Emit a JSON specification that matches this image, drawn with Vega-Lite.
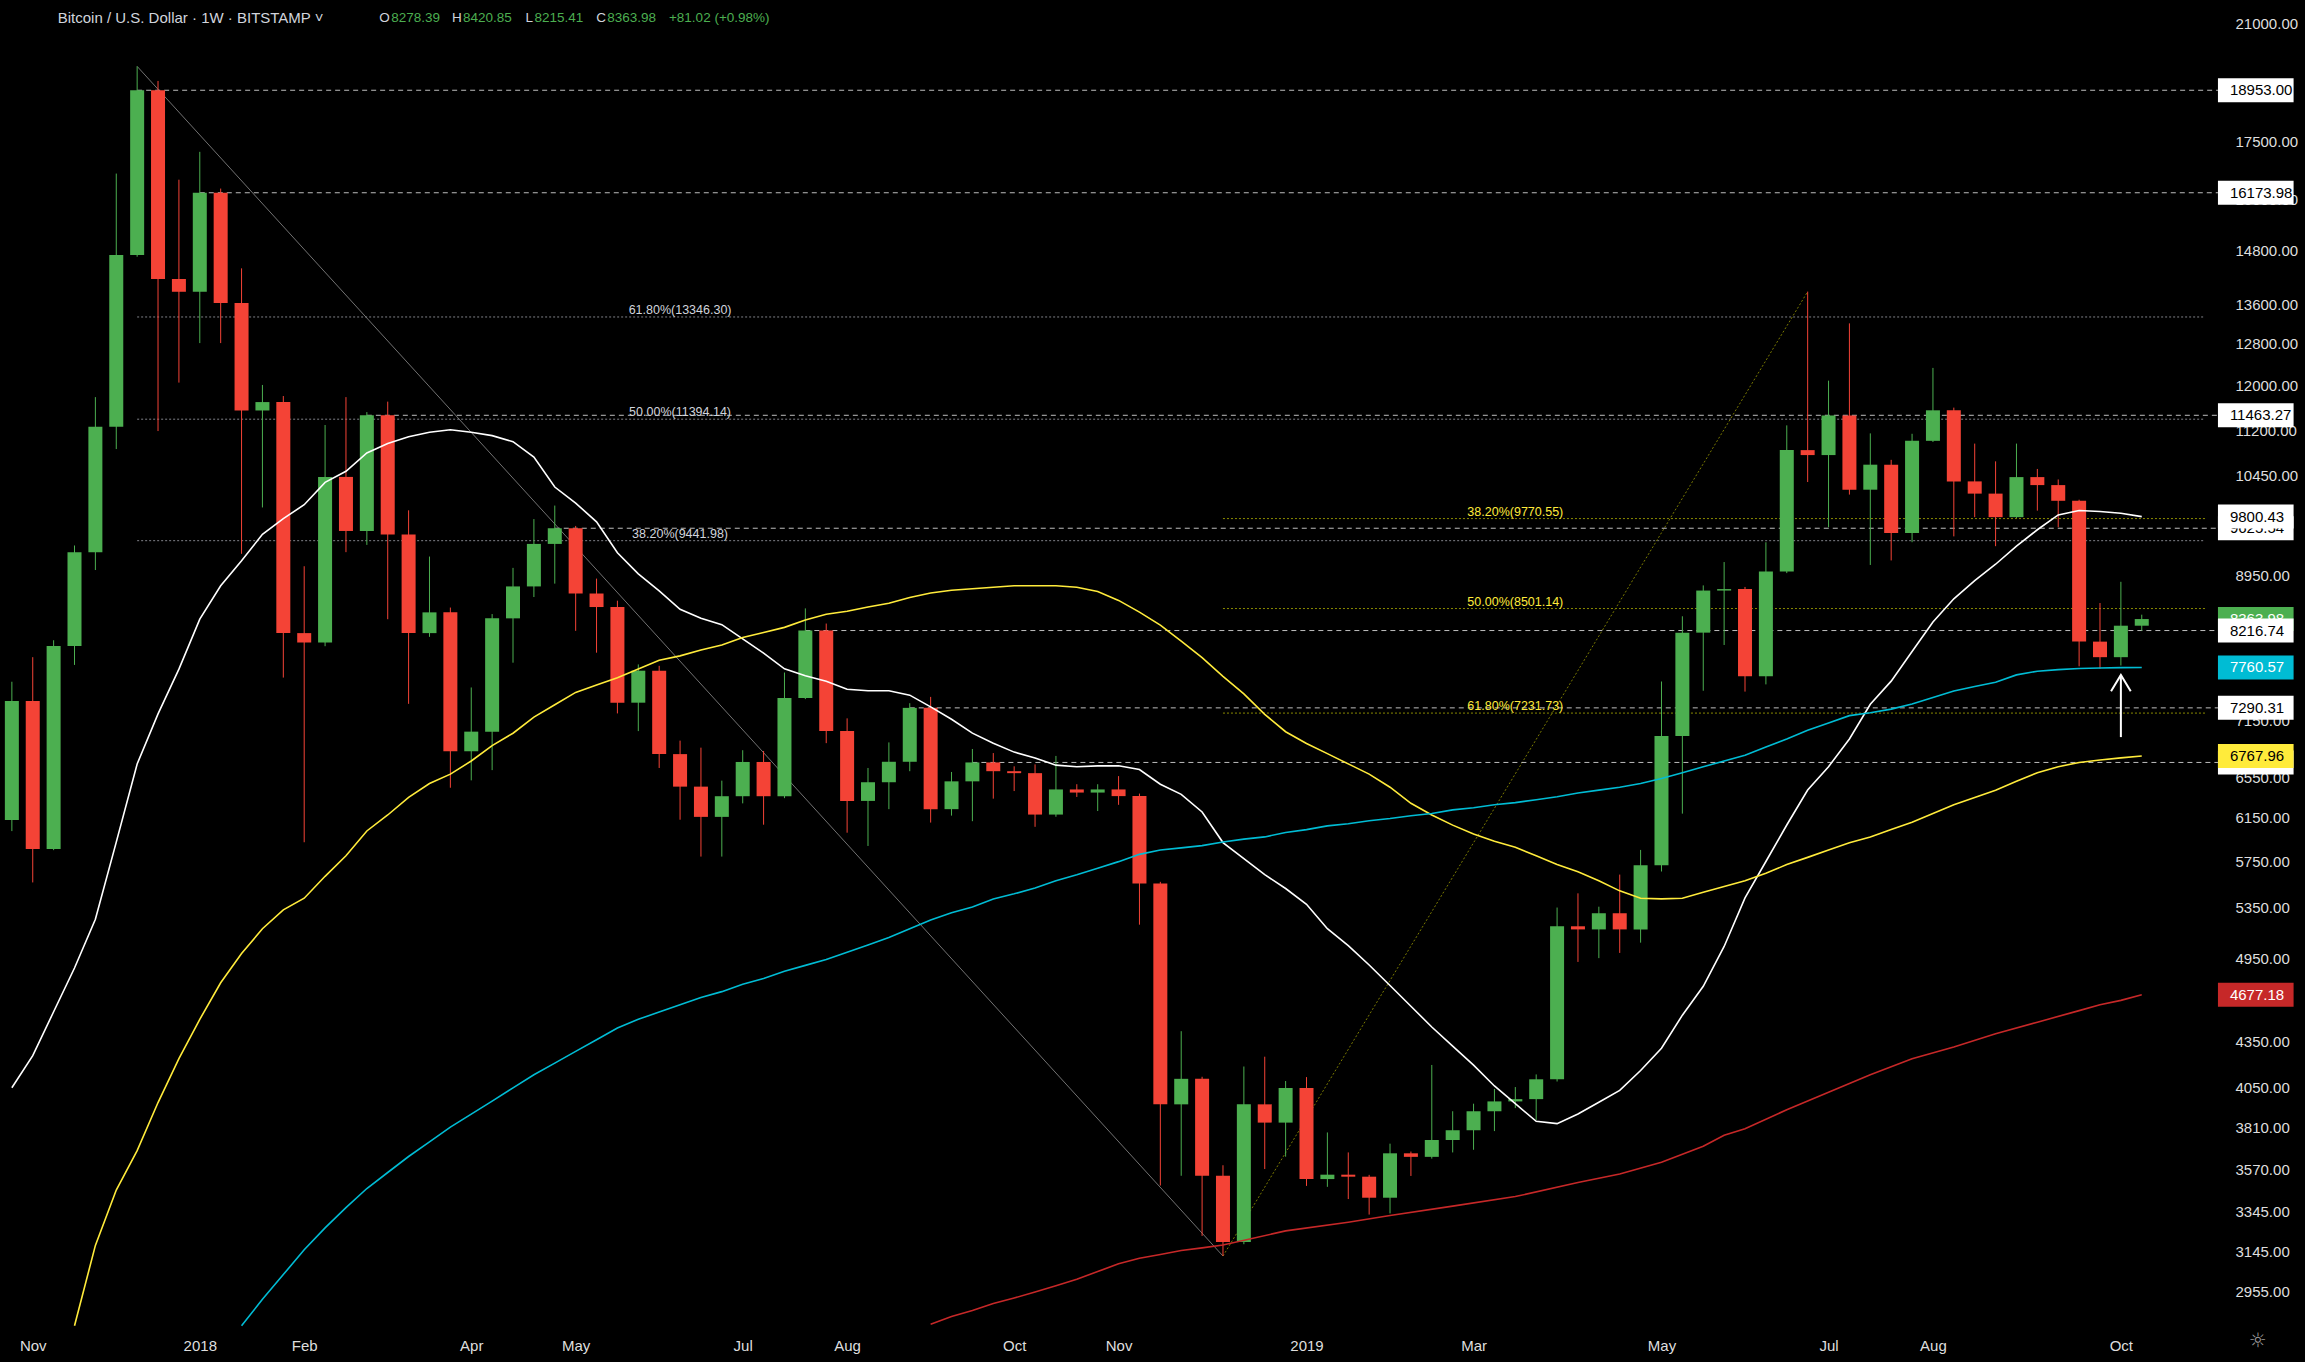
{
"$schema":"https://vega.github.io/schema/vega-lite/v6.json",
"width":2210,"height":1328,
"autosize":{"type":"none"},
"padding":{"left":0,"top":0,"right":95,"bottom":34},
"background":"#000000",
"config":{"view":{"stroke":null},"text":{"font":"Liberation Sans"},"axis":{"labelFont":"Liberation Sans","grid":false,"ticks":false,"domain":false,"title":null,"labelColor":"#dedede","labelFontSize":15}},
"resolve":{"scale":{"color":"independent"}},
"datasets":{
"candles":[
{"d":"2017-10-30","o":6130,"h":7591,"l":6025,"c":7367,"ma20":4051},
{"d":"2017-11-06","o":7367,"h":7885,"l":5565,"c":5861,"ma20":4257},
{"d":"2017-11-13","o":5861,"h":8094,"l":5850,"c":8024,"ma20":4556},
{"d":"2017-11-20","o":8024,"h":9372,"l":7791,"c":9276,"ma20":4875,"ma50":2803},
{"d":"2017-11-27","o":9276,"h":11790,"l":9023,"c":11262,"ma20":5257,"ma50":3174},
{"d":"2017-12-04","o":11262,"h":16661,"l":10880,"c":14692,"ma20":5923,"ma50":3458},
{"d":"2017-12-11","o":14692,"h":19666,"l":14650,"c":18953,"ma20":6684,"ma50":3675},
{"d":"2017-12-18","o":18953,"h":19228,"l":11187,"c":14154,"ma20":7223,"ma50":3959},
{"d":"2017-12-25","o":14154,"h":16504,"l":12058,"c":13877,"ma20":7740,"ma50":4237},
{"d":"2018-01-01","o":13877,"h":17231,"l":12818,"c":16173.98,"ma20":8363,"ma50":4503},
{"d":"2018-01-08","o":16173.98,"h":16279,"l":12818,"c":13640,"ma20":8806,"ma50":4765},
{"d":"2018-01-15","o":13640,"h":14389,"l":9252,"c":11549,"ma20":9155,"ma50":4985,"ma100":2803},
{"d":"2018-01-22","o":11549,"h":12014,"l":9940,"c":11700,"ma20":9535,"ma50":5180,"ma100":2920},
{"d":"2018-01-29","o":11700,"h":11810,"l":7640,"c":8184,"ma20":9771,"ma50":5334,"ma100":3034},
{"d":"2018-02-05","o":8184,"h":9076,"l":5922,"c":8066,"ma20":9982,"ma50":5431,"ma100":3153},
{"d":"2018-02-12","o":8066,"h":11292,"l":8020,"c":10421,"ma20":10333,"ma50":5618,"ma100":3261},
{"d":"2018-02-19","o":10421,"h":11790,"l":9276,"c":9585,"ma20":10512,"ma50":5799,"ma100":3365},
{"d":"2018-02-26","o":9585,"h":11520,"l":9381,"c":11463.27,"ma20":10815,"ma50":6026,"ma100":3466},
{"d":"2018-03-05","o":11463.27,"h":11708,"l":8362,"c":9534,"ma20":10975,"ma50":6177,"ma100":3553},
{"d":"2018-03-12","o":9534,"h":9896,"l":7336,"c":8184,"ma20":11090,"ma50":6347,"ma100":3642},
{"d":"2018-03-19","o":8184,"h":9213,"l":8137,"c":8451,"ma20":11167,"ma50":6485,"ma100":3725},
{"d":"2018-03-26","o":8451,"h":8514,"l":6443,"c":6817,"ma20":11210,"ma50":6580,"ma100":3811},
{"d":"2018-04-02","o":6817,"h":7524,"l":6517,"c":7027,"ma20":11167,"ma50":6715,"ma100":3889},
{"d":"2018-04-09","o":7027,"h":8429,"l":6621,"c":8373,"ma20":11108,"ma50":6877,"ma100":3968},
{"d":"2018-04-16","o":8373,"h":9053,"l":7818,"c":8797,"ma20":11005,"ma50":7010,"ma100":4050},
{"d":"2018-04-23","o":8797,"h":9763,"l":8654,"c":9395,"ma20":10747,"ma50":7186,"ma100":4133},
{"d":"2018-04-30","o":9395,"h":9969,"l":8835,"c":9625.54,"ma20":10259,"ma50":7325,"ma100":4208},
{"d":"2018-05-07","o":9625.54,"h":9660,"l":8213,"c":8701,"ma20":10007,"ma50":7467,"ma100":4285},
{"d":"2018-05-14","o":8701,"h":8904,"l":7940,"c":8521,"ma20":9722,"ma50":7552,"ma100":4363},
{"d":"2018-05-21","o":8521,"h":8605,"l":7228,"c":7349,"ma20":9267,"ma50":7638,"ma100":4443},
{"d":"2018-05-28","o":7349,"h":7797,"l":7033,"c":7722,"ma20":8969,"ma50":7742,"ma100":4503},
{"d":"2018-06-04","o":7722,"h":7780,"l":6643,"c":6787,"ma20":8736,"ma50":7848,"ma100":4554},
{"d":"2018-06-11","o":6787,"h":6930,"l":6132,"c":6454,"ma20":8491,"ma50":7901,"ma100":4606},
{"d":"2018-06-18","o":6454,"h":6855,"l":5792,"c":6159,"ma20":8374,"ma50":7973,"ma100":4658},
{"d":"2018-06-25","o":6159,"h":6514,"l":5792,"c":6359,"ma20":8292,"ma50":8036,"ma100":4700},
{"d":"2018-07-02","o":6359,"h":6828,"l":6289,"c":6705,"ma20":8112,"ma50":8128,"ma100":4754},
{"d":"2018-07-09","o":6705,"h":6820,"l":6085,"c":6359,"ma20":7934,"ma50":8192,"ma100":4797},
{"d":"2018-07-16","o":6359,"h":7700,"l":6340,"c":7403,"ma20":7744,"ma50":8257,"ma100":4851},
{"d":"2018-07-23","o":7403,"h":8503,"l":7390,"c":8216.74,"ma20":7661,"ma50":8351,"ma100":4895},
{"d":"2018-07-30","o":8216.74,"h":8306,"l":6903,"c":7033,"ma20":7597,"ma50":8426,"ma100":4940},
{"d":"2018-08-06","o":7033,"h":7173,"l":6010,"c":6313,"ma20":7504,"ma50":8465,"ma100":4996},
{"d":"2018-08-13","o":6313,"h":6643,"l":5888,"c":6498,"ma20":7486,"ma50":8522,"ma100":5052},
{"d":"2018-08-20","o":6498,"h":6911,"l":6233,"c":6707,"ma20":7486,"ma50":8570,"ma100":5110},
{"d":"2018-08-27","o":6707,"h":7343,"l":6610,"c":7290.31,"ma20":7435,"ma50":8648,"ma100":5180},
{"d":"2018-09-03","o":7290.31,"h":7415,"l":6105,"c":6233,"ma20":7302,"ma50":8707,"ma100":5250,"ma200":2810},
{"d":"2018-09-10","o":6233,"h":6602,"l":6171,"c":6507,"ma20":7163,"ma50":8746,"ma100":5310,"ma200":2843},
{"d":"2018-09-17","o":6507,"h":6841,"l":6118,"c":6700,"ma20":7011,"ma50":8766,"ma100":5358,"ma200":2870},
{"d":"2018-09-24","o":6700,"h":6798,"l":6335,"c":6610,"ma20":6901,"ma50":8786,"ma100":5425,"ma200":2901},
{"d":"2018-10-01","o":6610,"h":6660,"l":6410,"c":6590,"ma20":6808,"ma50":8806,"ma100":5468,"ma200":2926},
{"d":"2018-10-08","o":6590,"h":6680,"l":6065,"c":6181,"ma20":6747,"ma50":8806,"ma100":5517,"ma200":2953},
{"d":"2018-10-15","o":6181,"h":6768,"l":6160,"c":6426,"ma20":6672,"ma50":8806,"ma100":5580,"ma200":2982},
{"d":"2018-10-22","o":6426,"h":6478,"l":6352,"c":6395,"ma20":6656,"ma50":8786,"ma100":5631,"ma200":3012},
{"d":"2018-10-29","o":6395,"h":6478,"l":6215,"c":6426,"ma20":6665,"ma50":8727,"ma100":5689,"ma200":3048},
{"d":"2018-11-05","o":6426,"h":6560,"l":6275,"c":6360,"ma20":6665,"ma50":8609,"ma100":5747,"ma200":3085},
{"d":"2018-11-12","o":6360,"h":6385,"l":5213,"c":5556,"ma20":6627,"ma50":8454,"ma100":5812,"ma200":3112},
{"d":"2018-11-19","o":5556,"h":5570,"l":3482,"c":3948,"ma20":6478,"ma50":8285,"ma100":5851,"ma200":3130},
{"d":"2018-11-26","o":3948,"h":4421,"l":3535,"c":4107,"ma20":6377,"ma50":8082,"ma100":5871,"ma200":3149},
{"d":"2018-12-03","o":4107,"h":4120,"l":3221,"c":3535,"ma20":6206,"ma50":7880,"ma100":5891,"ma200":3162},
{"d":"2018-12-10","o":3535,"h":3593,"l":3122.28,"c":3191,"ma20":5919,"ma50":7655,"ma100":5924,"ma200":3176},
{"d":"2018-12-17","o":3191,"h":4186,"l":3180,"c":3948,"ma20":5774,"ma50":7450,"ma100":5951},
{"d":"2018-12-24","o":3948,"h":4250,"l":3572,"c":3838,"ma20":5633,"ma50":7218,"ma100":5971},
{"d":"2018-12-31","o":3838,"h":4093,"l":3641,"c":4049,"ma20":5513,"ma50":7026,"ma100":6012,"ma200":3246},
{"d":"2019-01-07","o":4049,"h":4118,"l":3480,"c":3517,"ma20":5380,"ma50":6900,"ma100":6039},
{"d":"2019-01-14","o":3517,"h":3780,"l":3475,"c":3541,"ma20":5181,"ma50":6792,"ma100":6074},
{"d":"2019-01-21","o":3541,"h":3665,"l":3410,"c":3530,"ma20":5047,"ma50":6685,"ma100":6094,"ma200":3290},
{"d":"2019-01-28","o":3530,"h":3540,"l":3329,"c":3417,"ma20":4898,"ma50":6580,"ma100":6122},
{"d":"2019-02-04","o":3417,"h":3715,"l":3335,"c":3660,"ma20":4745,"ma50":6448,"ma100":6143,"ma200":3324},
{"d":"2019-02-11","o":3660,"h":3670,"l":3534,"c":3640,"ma20":4595,"ma50":6290,"ma100":6170},
{"d":"2019-02-18","o":3640,"h":4196,"l":3630,"c":3736,"ma20":4450,"ma50":6177,"ma100":6191},
{"d":"2019-02-25","o":3736,"h":3906,"l":3665,"c":3793,"ma20":4320,"ma50":6081,"ma100":6226,"ma200":3373},
{"d":"2019-03-04","o":3793,"h":3952,"l":3680,"c":3906,"ma20":4195,"ma50":5998,"ma100":6247},
{"d":"2019-03-11","o":3906,"h":4043,"l":3788,"c":3966,"ma20":4062,"ma50":5931,"ma100":6275},
{"d":"2019-03-18","o":3966,"h":4055,"l":3925,"c":3980,"ma20":3952,"ma50":5877,"ma100":6296,"ma200":3423},
{"d":"2019-03-25","o":3980,"h":4135,"l":3854,"c":4104,"ma20":3846,"ma50":5799,"ma100":6325},
{"d":"2019-04-01","o":4104,"h":5353,"l":4090,"c":5200,"ma20":3832,"ma50":5721,"ma100":6354},
{"d":"2019-04-08","o":5200,"h":5472,"l":4921,"c":5175,"ma20":3890,"ma50":5657,"ma100":6390,"ma200":3498},
{"d":"2019-04-15","o":5175,"h":5360,"l":4950,"c":5306,"ma20":3961,"ma50":5580,"ma100":6419},
{"d":"2019-04-22","o":5306,"h":5633,"l":4990,"c":5175,"ma20":4034,"ma50":5493,"ma100":6448,"ma200":3545},
{"d":"2019-04-29","o":5175,"h":5852,"l":5070,"c":5715,"ma20":4160,"ma50":5431,"ma100":6485},
{"d":"2019-05-06","o":5715,"h":7594,"l":5660,"c":6980,"ma20":4306,"ma50":5425,"ma100":6536,"ma200":3610},
{"d":"2019-05-13","o":6980,"h":8400,"l":6190,"c":8190,"ma20":4532,"ma50":5431,"ma100":6595},
{"d":"2019-05-20","o":8190,"h":8811,"l":7486,"c":8741,"ma20":4739,"ma50":5481,"ma100":6655,"ma200":3700},
{"d":"2019-05-27","o":8741,"h":9135,"l":8035,"c":8761,"ma20":5040,"ma50":5530,"ma100":6715,"ma200":3764},
{"d":"2019-06-03","o":8761,"h":8790,"l":7476,"c":7655,"ma20":5433,"ma50":5580,"ma100":6776,"ma200":3802},
{"d":"2019-06-10","o":7655,"h":9419,"l":7560,"c":9001,"ma20":5748,"ma50":5644,"ma100":6861},
{"d":"2019-06-17","o":9001,"h":11286,"l":8980,"c":10862,"ma20":6082,"ma50":5721,"ma100":6947,"ma200":3915},
{"d":"2019-06-24","o":10862,"h":13880,"l":10339,"c":10779,"ma20":6420,"ma50":5785,"ma100":7041},
{"d":"2019-07-01","o":10779,"h":12094,"l":9641,"c":11460,"ma20":6656,"ma50":5851,"ma100":7122,"ma200":4022},
{"d":"2019-07-08","o":11460,"h":13215,"l":10140,"c":10217,"ma20":6948,"ma50":5917,"ma100":7203},
{"d":"2019-07-15","o":10217,"h":11147,"l":9094,"c":10620,"ma20":7331,"ma50":5971,"ma100":7235,"ma200":4133},
{"d":"2019-07-22","o":10620,"h":10700,"l":9158,"c":9555,"ma20":7598,"ma50":6039,"ma100":7276},
{"d":"2019-07-29","o":9555,"h":11140,"l":9420,"c":11019,"ma20":7954,"ma50":6108,"ma100":7334,"ma200":4237},
{"d":"2019-08-05","o":11019,"h":12335,"l":11000,"c":11552,"ma20":8327,"ma50":6191,"ma100":7408},
{"d":"2019-08-12","o":11552,"h":11600,"l":9505,"c":10349,"ma20":8630,"ma50":6275,"ma100":7484,"ma200":4314},
{"d":"2019-08-19","o":10349,"h":10972,"l":9792,"c":10155,"ma20":8875,"ma50":6347,"ma100":7535},
{"d":"2019-08-26","o":10155,"h":10675,"l":9362,"c":9792,"ma20":9104,"ma50":6419,"ma100":7586,"ma200":4403},
{"d":"2019-09-02","o":9792,"h":10972,"l":9780,"c":10418,"ma20":9363,"ma50":6507,"ma100":7672},
{"d":"2019-09-09","o":10418,"h":10550,"l":9891,"c":10290,"ma20":9603,"ma50":6595,"ma100":7716,"ma200":4483},
{"d":"2019-09-16","o":10290,"h":10380,"l":9641,"c":10043,"ma20":9826,"ma50":6655,"ma100":7735},
{"d":"2019-09-23","o":10043,"h":10060,"l":7774,"c":8077,"ma20":9893,"ma50":6700,"ma100":7748,"ma200":4564},
{"d":"2019-09-30","o":8077,"h":8574,"l":7745,"c":7885,"ma20":9877,"ma50":6725,"ma100":7754,"ma200":4606},
{"d":"2019-10-07","o":7885,"h":8860,"l":7784,"c":8278.39,"ma20":9851,"ma50":6748,"ma100":7758,"ma200":4637},
{"d":"2019-10-14","o":8278.39,"h":8420.85,"l":8215.41,"c":8363.98,"ma20":9800.43,"ma50":6767.96,"ma100":7760.57,"ma200":4677.18}
],
"fib":[
{"s":"2017-12-11","m":"2018-06-11","v":13346.30,"t":"61.80%(13346.30)","g":"a"},
{"s":"2017-12-11","m":"2018-06-11","v":11394.14,"t":"50.00%(11394.14)","g":"a"},
{"s":"2017-12-11","m":"2018-06-11","v":9441.98,"t":"38.20%(9441.98)","g":"a"},
{"s":"2018-12-10","m":"2019-03-18","v":9770.55,"t":"38.20%(9770.55)","g":"b"},
{"s":"2018-12-10","m":"2019-03-18","v":8501.14,"t":"50.00%(8501.14)","g":"b"},
{"s":"2018-12-10","m":"2019-03-18","v":7231.73,"t":"61.80%(7231.73)","g":"b"}
],
"fibdiag":[
{"d":"2017-12-11","v":19666,"g":"a"},
{"d":"2018-12-10","v":3122.28,"g":"a"},
{"d":"2018-12-10","v":3122.28,"g":"b"},
{"d":"2019-06-24","v":13880,"g":"b"}
],
"rays":[
{"s":"2017-12-11","v":18953},
{"s":"2018-01-01","v":16173.98},
{"s":"2018-02-26","v":11463.27},
{"s":"2018-04-30","v":9625.54},
{"s":"2018-07-23","v":8216.74},
{"s":"2018-08-27","v":7290.31},
{"s":"2018-09-17","v":6700}
],
"boxA":[
{"v":8363.98,"t":"8363.98","k":"green"},
{"v":9625.54,"t":"9625.54","k":"white"},
{"v":6700,"t":"","k":"white"}
],
"boxB":[
{"v":18953,"t":"18953.00","k":"white"},
{"v":16173.98,"t":"16173.98","k":"white"},
{"v":11463.27,"t":"11463.27","k":"white"},
{"v":9800.43,"t":"9800.43","k":"white"},
{"v":8216.74,"t":"8216.74","k":"white"},
{"v":7760.57,"t":"7760.57","k":"cyan"},
{"v":7290.31,"t":"7290.31","k":"white"},
{"v":6767.96,"t":"6767.96","k":"yellow"},
{"v":4677.18,"t":"4677.18","k":"red"}
],
"hname":[{"d":"2017-11-14T09:16:00Z","t":"Bitcoin / U.S. Dollar · 1W · BITSTAMP ˅"}],
"hohlc":[
{"d":"2018-03-02T04:06:00Z","t":"O","k":"n"},
{"d":"2018-03-06T04:18:00Z","t":"8278.39","k":"g"},
{"d":"2018-03-26T12:43:00Z","t":"H","k":"n"},
{"d":"2018-03-30T04:48:00Z","t":"8420.85","k":"g"},
{"d":"2018-04-20T05:17:00Z","t":"L","k":"n"},
{"d":"2018-04-23T05:31:00Z","t":"8215.41","k":"g"},
{"d":"2018-05-13T22:06:00Z","t":"C","k":"n"},
{"d":"2018-05-17T14:10:00Z","t":"8363.98","k":"g"},
{"d":"2018-06-07T06:43:00Z","t":"+81.02 (+0.98%)","k":"g"}
],
"arrow":[
{"d":"2019-10-03T16:48:00Z","v":7480,"o":1},
{"d":"2019-10-07T00:00:00Z","v":7672,"o":2},
{"d":"2019-10-10T07:12:00Z","v":7480,"o":3}
],
"shaft":[{"d":"2019-10-07","lo":6968,"hi":7672}]
},
"layer":[
{"data":{"name":"fib"},"transform":[{"filter":"datum.g === 'a'"}],
 "mark":{"type":"rule","strokeWidth":1,"strokeDash":[2,2],"color":"#808289"},
 "encoding":{
  "x":{"field":"s","type":"temporal","scale":{"type":"utc","domain":[{"year":2017,"month":10,"date":27,"hours":16,"minutes":48,"utc":true},{"year":2019,"month":11,"date":4,"hours":4,"minutes":48,"utc":true}]}},
  "x2":{"datum":{"year":2019,"month":11,"date":4,"hours":4,"minutes":48,"utc":true}},
  "y":{"field":"v","type":"quantitative","scale":{"type":"log","domain":[2815,21625],"nice":false,"zero":false}}}},
{"data":{"name":"fib"},"transform":[{"filter":"datum.g === 'b'"}],
 "mark":{"type":"rule","strokeWidth":1,"strokeDash":[2,2],"color":"#8a8a00"},
 "encoding":{
  "x":{"field":"s","type":"temporal","scale":{"type":"utc","domain":[{"year":2017,"month":10,"date":27,"hours":16,"minutes":48,"utc":true},{"year":2019,"month":11,"date":4,"hours":4,"minutes":48,"utc":true}]}},
  "x2":{"datum":{"year":2019,"month":11,"date":4,"hours":4,"minutes":48,"utc":true}},
  "y":{"field":"v","type":"quantitative","scale":{"type":"log","domain":[2815,21625],"nice":false,"zero":false}}}},
{"data":{"name":"fibdiag"},"transform":[{"filter":"datum.g === 'a'"}],
 "mark":{"type":"line","strokeWidth":1,"color":"#8e8e8e","opacity":0.8},
 "encoding":{
  "x":{"field":"d","type":"temporal","scale":{"type":"utc","domain":[{"year":2017,"month":10,"date":27,"hours":16,"minutes":48,"utc":true},{"year":2019,"month":11,"date":4,"hours":4,"minutes":48,"utc":true}]}},
  "y":{"field":"v","type":"quantitative","scale":{"type":"log","domain":[2815,21625],"nice":false,"zero":false}}}},
{"data":{"name":"fibdiag"},"transform":[{"filter":"datum.g === 'b'"}],
 "mark":{"type":"line","strokeWidth":1,"color":"#7a7a00","strokeDash":[2,2]},
 "encoding":{
  "x":{"field":"d","type":"temporal","scale":{"type":"utc","domain":[{"year":2017,"month":10,"date":27,"hours":16,"minutes":48,"utc":true},{"year":2019,"month":11,"date":4,"hours":4,"minutes":48,"utc":true}]}},
  "y":{"field":"v","type":"quantitative","scale":{"type":"log","domain":[2815,21625],"nice":false,"zero":false}}}},
{"data":{"name":"rays"},
 "mark":{"type":"rule","strokeWidth":1,"strokeDash":[5,4],"color":"#bdbdbd","clip":false},
 "encoding":{
  "x":{"field":"s","type":"temporal","scale":{"type":"utc","domain":[{"year":2017,"month":10,"date":27,"hours":16,"minutes":48,"utc":true},{"year":2019,"month":11,"date":4,"hours":4,"minutes":48,"utc":true}]}},
  "x2":{"datum":{"year":2019,"month":11,"date":8,"hours":13,"utc":true}},
  "y":{"field":"v","type":"quantitative","scale":{"type":"log","domain":[2815,21625],"nice":false,"zero":false}}}},
{"data":{"name":"candles"},
 "mark":{"type":"rule","strokeWidth":1},
 "encoding":{
  "x":{"field":"d","type":"temporal","scale":{"type":"utc","domain":[{"year":2017,"month":10,"date":27,"hours":16,"minutes":48,"utc":true},{"year":2019,"month":11,"date":4,"hours":4,"minutes":48,"utc":true}]},
   "axis":{"orient":"bottom","title":null,"grid":false,"ticks":false,"domain":false,"labelColor":"#dedede","labelFontSize":15,"labelPadding":10,"labelFlush":false,"labelOverlap":false,
    "values":[{"year":2017,"month":11,"date":6,"utc":true},{"year":2018,"month":1,"date":1,"utc":true},{"year":2018,"month":2,"date":5,"utc":true},{"year":2018,"month":4,"date":2,"utc":true},{"year":2018,"month":5,"date":7,"utc":true},{"year":2018,"month":7,"date":2,"utc":true},{"year":2018,"month":8,"date":6,"utc":true},{"year":2018,"month":10,"date":1,"utc":true},{"year":2018,"month":11,"date":5,"utc":true},{"year":2019,"month":1,"date":7,"utc":true},{"year":2019,"month":3,"date":4,"utc":true},{"year":2019,"month":5,"date":6,"utc":true},{"year":2019,"month":7,"date":1,"utc":true},{"year":2019,"month":8,"date":5,"utc":true},{"year":2019,"month":10,"date":7,"utc":true}],
    "labelExpr":"utcmonth(datum.value) === 0 ? utcFormat(datum.value, '%Y') : utcFormat(datum.value, '%b')"}},
  "y":{"field":"l","type":"quantitative","scale":{"type":"log","domain":[2815,21625],"nice":false,"zero":false},
   "axis":{"orient":"right","title":null,"grid":false,"ticks":false,"domain":false,"labelColor":"#dedede","labelFontSize":15,"labelPadding":25,"labelAlign":"left","labelBaseline":"middle","labelFlush":false,"labelOverlap":false,"format":".2f",
    "values":[21000,17500,16000,14800,13600,12800,12000,11200,10450,8950,7150,6550,6150,5750,5350,4950,4350,4050,3810,3570,3345,3145,2955]}},
  "y2":{"field":"h"},
  "color":{"condition":{"test":"datum.c >= datum.o","value":"#4caf50"},"value":"#f44336"}}},
{"data":{"name":"candles"},
 "mark":{"type":"bar","width":14},
 "encoding":{
  "x":{"field":"d","type":"temporal","scale":{"type":"utc","domain":[{"year":2017,"month":10,"date":27,"hours":16,"minutes":48,"utc":true},{"year":2019,"month":11,"date":4,"hours":4,"minutes":48,"utc":true}]}},
  "y":{"field":"o","type":"quantitative","scale":{"type":"log","domain":[2815,21625],"nice":false,"zero":false}},
  "y2":{"field":"c"},
  "color":{"condition":{"test":"datum.c >= datum.o","value":"#4caf50"},"value":"#f44336"}}},
{"data":{"name":"candles"},
 "transform":[{"fold":["ma20","ma50","ma100","ma200"],"as":["k","v"]},{"filter":"isValid(datum.v)"}],
 "mark":{"type":"line","strokeWidth":1.6,"clip":true},
 "encoding":{
  "x":{"field":"d","type":"temporal","scale":{"type":"utc","domain":[{"year":2017,"month":10,"date":27,"hours":16,"minutes":48,"utc":true},{"year":2019,"month":11,"date":4,"hours":4,"minutes":48,"utc":true}]}},
  "y":{"field":"v","type":"quantitative","scale":{"type":"log","domain":[2815,21625],"nice":false,"zero":false}},
  "color":{"field":"k","type":"nominal","scale":{"domain":["ma20","ma50","ma100","ma200"],"range":["#ffffff","#ffeb3b","#00bcd4","#c62828"]},"legend":null}}},
{"data":{"name":"fib"},
 "mark":{"type":"text","fontSize":12.5,"align":"center","baseline":"bottom"},
 "encoding":{
  "x":{"field":"m","type":"temporal","scale":{"type":"utc","domain":[{"year":2017,"month":10,"date":27,"hours":16,"minutes":48,"utc":true},{"year":2019,"month":11,"date":4,"hours":4,"minutes":48,"utc":true}]}},
  "y":{"field":"v","type":"quantitative","scale":{"type":"log","domain":[2815,21625],"nice":false,"zero":false}},
  "text":{"field":"t"},
  "color":{"field":"g","type":"nominal","scale":{"domain":["a","b"],"range":["#d1d4dc","#ffeb3b"]},"legend":null}}},
{"data":{"name":"arrow"},
 "mark":{"type":"line","strokeWidth":2,"color":"#ffffff"},
 "encoding":{
  "x":{"field":"d","type":"temporal","scale":{"type":"utc","domain":[{"year":2017,"month":10,"date":27,"hours":16,"minutes":48,"utc":true},{"year":2019,"month":11,"date":4,"hours":4,"minutes":48,"utc":true}]}},
  "y":{"field":"v","type":"quantitative","scale":{"type":"log","domain":[2815,21625],"nice":false,"zero":false}},
  "order":{"field":"o"}}},
{"data":{"name":"shaft"},
 "mark":{"type":"rule","strokeWidth":2,"color":"#ffffff"},
 "encoding":{
  "x":{"field":"d","type":"temporal","scale":{"type":"utc","domain":[{"year":2017,"month":10,"date":27,"hours":16,"minutes":48,"utc":true},{"year":2019,"month":11,"date":4,"hours":4,"minutes":48,"utc":true}]}},
  "y":{"field":"lo","type":"quantitative","scale":{"type":"log","domain":[2815,21625],"nice":false,"zero":false}},
  "y2":{"field":"hi"}}},
{"data":{"name":"boxA"},
 "mark":{"type":"bar","height":24,"clip":false},
 "encoding":{
  "x":{"datum":{"year":2019,"month":11,"date":8,"hours":13,"utc":true},"type":"temporal","scale":{"type":"utc","domain":[{"year":2017,"month":10,"date":27,"hours":16,"minutes":48,"utc":true},{"year":2019,"month":11,"date":4,"hours":4,"minutes":48,"utc":true}]}},
  "x2":{"datum":{"year":2019,"month":12,"date":3,"hours":21,"minutes":36,"utc":true}},
  "y":{"field":"v","type":"quantitative","scale":{"type":"log","domain":[2815,21625],"nice":false,"zero":false}},
  "color":{"field":"k","type":"nominal","scale":{"domain":["white","green","cyan","yellow","red"],"range":["#ffffff","#4caf50","#00bcd4","#ffeb3b","#c62828"]},"legend":null}}},
{"data":{"name":"boxA"},
 "mark":{"type":"text","fontSize":15,"align":"left","baseline":"middle","clip":false},
 "encoding":{
  "x":{"datum":{"year":2019,"month":11,"date":12,"hours":13,"utc":true},"type":"temporal","scale":{"type":"utc","domain":[{"year":2017,"month":10,"date":27,"hours":16,"minutes":48,"utc":true},{"year":2019,"month":11,"date":4,"hours":4,"minutes":48,"utc":true}]}},
  "y":{"field":"v","type":"quantitative","scale":{"type":"log","domain":[2815,21625],"nice":false,"zero":false}},
  "text":{"field":"t"},
  "color":{"field":"k","type":"nominal","scale":{"domain":["white","green","cyan","yellow","red"],"range":["#000000","#ffffff","#ffffff","#000000","#ffffff"]},"legend":null}}},
{"data":{"name":"boxB"},
 "mark":{"type":"bar","height":24,"clip":false},
 "encoding":{
  "x":{"datum":{"year":2019,"month":11,"date":8,"hours":13,"utc":true},"type":"temporal","scale":{"type":"utc","domain":[{"year":2017,"month":10,"date":27,"hours":16,"minutes":48,"utc":true},{"year":2019,"month":11,"date":4,"hours":4,"minutes":48,"utc":true}]}},
  "x2":{"datum":{"year":2019,"month":12,"date":3,"hours":21,"minutes":36,"utc":true}},
  "y":{"field":"v","type":"quantitative","scale":{"type":"log","domain":[2815,21625],"nice":false,"zero":false}},
  "color":{"field":"k","type":"nominal","scale":{"domain":["white","green","cyan","yellow","red"],"range":["#ffffff","#4caf50","#00bcd4","#ffeb3b","#c62828"]},"legend":null}}},
{"data":{"name":"boxB"},
 "mark":{"type":"text","fontSize":15,"align":"left","baseline":"middle","clip":false},
 "encoding":{
  "x":{"datum":{"year":2019,"month":11,"date":12,"hours":13,"utc":true},"type":"temporal","scale":{"type":"utc","domain":[{"year":2017,"month":10,"date":27,"hours":16,"minutes":48,"utc":true},{"year":2019,"month":11,"date":4,"hours":4,"minutes":48,"utc":true}]}},
  "y":{"field":"v","type":"quantitative","scale":{"type":"log","domain":[2815,21625],"nice":false,"zero":false}},
  "text":{"field":"t"},
  "color":{"field":"k","type":"nominal","scale":{"domain":["white","green","cyan","yellow","red"],"range":["#000000","#ffffff","#ffffff","#000000","#ffffff"]},"legend":null}}},
{"data":{"name":"hname"},
 "mark":{"type":"text","fontSize":15,"align":"left","baseline":"middle","color":"#d1d4dc"},
 "encoding":{
  "x":{"field":"d","type":"temporal","scale":{"type":"utc","domain":[{"year":2017,"month":10,"date":27,"hours":16,"minutes":48,"utc":true},{"year":2019,"month":11,"date":4,"hours":4,"minutes":48,"utc":true}]}},
  "y":{"datum":21200,"type":"quantitative","scale":{"type":"log","domain":[2815,21625],"nice":false,"zero":false}},
  "text":{"field":"t"}}},
{"data":{"name":"hohlc"},
 "mark":{"type":"text","fontSize":13.5,"align":"left","baseline":"middle"},
 "encoding":{
  "x":{"field":"d","type":"temporal","scale":{"type":"utc","domain":[{"year":2017,"month":10,"date":27,"hours":16,"minutes":48,"utc":true},{"year":2019,"month":11,"date":4,"hours":4,"minutes":48,"utc":true}]}},
  "y":{"datum":21200,"type":"quantitative","scale":{"type":"log","domain":[2815,21625],"nice":false,"zero":false}},
  "text":{"field":"t"},
  "color":{"field":"k","type":"nominal","scale":{"domain":["n","g"],"range":["#d1d4dc","#4caf50"]},"legend":null}}},
{"data":{"values":[{"t":"☼"}]},
 "mark":{"type":"text","fontSize":20,"align":"center","baseline":"middle","color":"#9a9a9a","clip":false,"font":"DejaVu Sans"},
 "encoding":{
  "x":{"datum":{"year":2019,"month":11,"date":21,"hours":20,"minutes":36,"utc":true},"type":"temporal","scale":{"type":"utc","domain":[{"year":2017,"month":10,"date":27,"hours":16,"minutes":48,"utc":true},{"year":2019,"month":11,"date":4,"hours":4,"minutes":48,"utc":true}]}},
  "y":{"datum":2737,"type":"quantitative","scale":{"type":"log","domain":[2815,21625],"nice":false,"zero":false}},
  "text":{"field":"t"}}}
]
}
